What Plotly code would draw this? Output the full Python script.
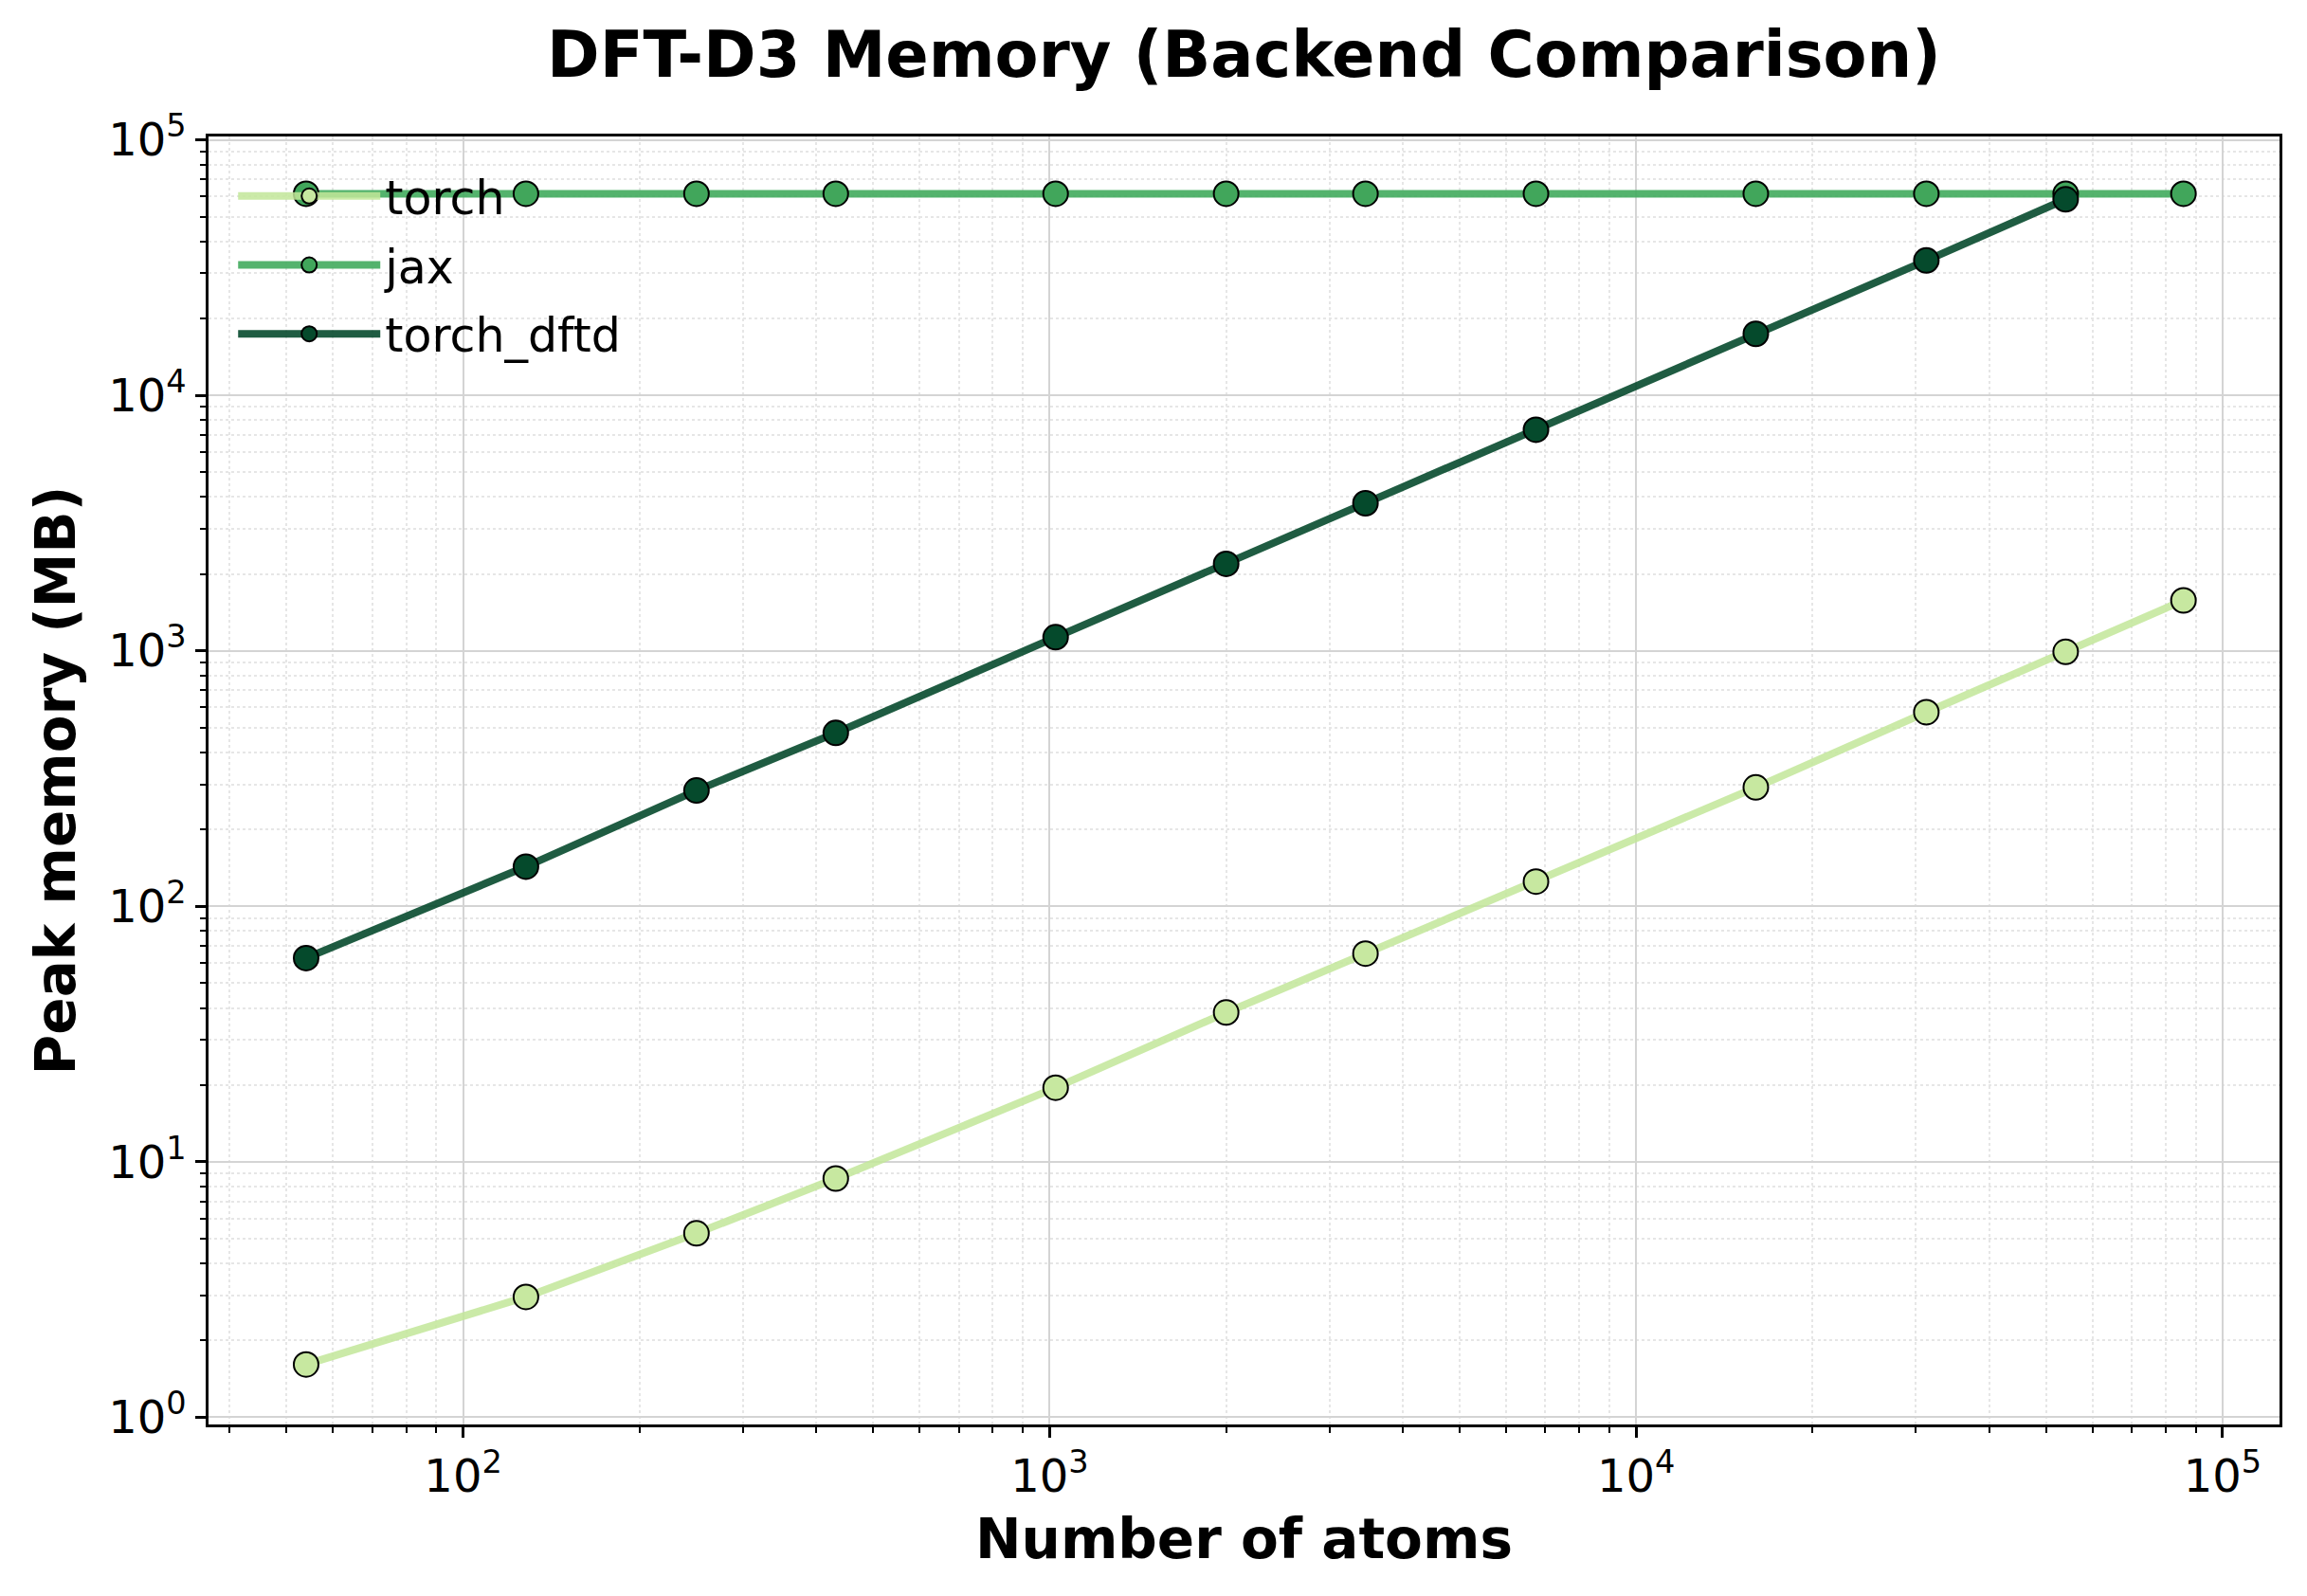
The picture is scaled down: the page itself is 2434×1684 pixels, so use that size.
import plotly.graph_objects as go

# number of atoms (cubic supercells)
atoms = [54, 128, 250, 432, 1024, 2000, 3456, 6750, 16000, 31250, 54000, 85750]

# peak memory in MB
mem_torch = [1.61, 2.96, 5.25, 8.6, 19.5, 38.4, 65.3, 125, 292, 575, 990, 1575]
mem_jax = [61500, 61500, 61500, 61500, 61500, 61500, 61500, 61500, 61500, 61500, 61500, 61500]
mem_torch_dftd = [62.7, 143, 284, 477, 1130, 2190, 3780, 7330, 17400, 33700, 58500]

xticks = [100, 1000, 10000, 100000]
xtick_text = ["10<sup>2</sup>", "10<sup>3</sup>", "10<sup>4</sup>", "10<sup>5</sup>"]
yticks = [1, 10, 100, 1000, 10000, 100000]
ytick_text = ["10<sup>0</sup>", "10<sup>1</sup>", "10<sup>2</sup>",
              "10<sup>3</sup>", "10<sup>4</sup>", "10<sup>5</sup>"]

series = [
    ("torch", atoms, mem_torch, "rgba(194,230,153,0.85)", "#c7e8a0"),
    ("jax", atoms, mem_jax, "rgba(65,171,93,0.9)", "#41a65b"),
    ("torch_dftd", atoms[:len(mem_torch_dftd)], mem_torch_dftd, "rgba(0,70,40,0.88)", "#054a2c"),
]

fig = go.Figure()
for name, xs, ys, lc, mc in series:
    fig.add_trace(go.Scatter(
        x=xs, y=ys, name=name, mode="lines+markers", legendgroup=name,
        line=dict(color=lc, width=8),
        marker=dict(size=26, color=mc, line=dict(color="black", width=2)),
    ))

axis_common = dict(
    type="log",
    showline=True, linecolor="black", linewidth=2.5, mirror=True,
    ticks="outside", ticklen=11, tickwidth=2.5, tickcolor="black",
    tickfont=dict(family="DejaVu Sans", size=48, color="black"),
    showgrid=True, gridcolor="#d4d4d4", gridwidth=2,
    zeroline=False,
    minor=dict(ticks="outside", ticklen=6, tickwidth=2, tickcolor="black",
               dtick="D1", showgrid=True, gridcolor="#e6e6e6",
               griddash="dot", gridwidth=1.5),
)

W, H = 2426, 1676

fig.update_layout(
    width=W, height=H,
    paper_bgcolor="white", plot_bgcolor="white",
    margin=dict(l=212, r=29, t=136, b=181),
    title=dict(text="<b>DFT-D3 Memory (Backend Comparison)</b>",
               font=dict(family="DejaVu Sans", size=67, color="black"),
               x=0.5, xref="paper", xanchor="center",
               y=1 - 50 / H, yref="container", yanchor="middle"),
    xaxis=dict(axis_common, range=[1.566, 5.097],
               tickvals=xticks, ticktext=xtick_text,
               title=dict(text="<b>Number of atoms</b>", standoff=20,
                          font=dict(family="DejaVu Sans", size=58, color="black"))),
    yaxis=dict(axis_common, range=[-0.028, 5.013],
               tickvals=yticks, ticktext=ytick_text,
               title=dict(text="<b>Peak memory (MB)</b>", standoff=16,
                          font=dict(family="DejaVu Sans", size=58, color="black"))),
    legend=dict(x=0.012, y=0.982, xanchor="left", yanchor="top",
                bgcolor="rgba(0,0,0,0)",
                font=dict(family="DejaVu Sans", size=49, color="black"),
                itemwidth=150, tracegroupgap=6),
    showlegend=True,
)

fig.write_html("out.html")
